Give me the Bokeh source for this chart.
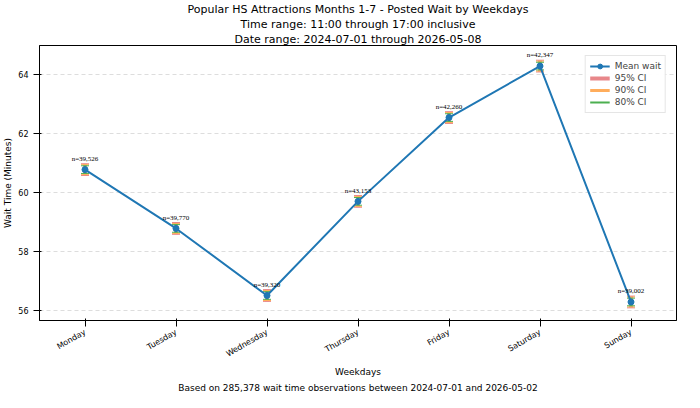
import math
from bokeh.plotting import figure
from bokeh.models import ColumnDataSource, Whisker, Title, Range1d, Legend, LegendItem
from bokeh.embed import file_html
from bokeh.resources import INLINE

days = ["Monday", "Tuesday", "Wednesday", "Thursday", "Friday", "Saturday", "Sunday"]
means = [60.78, 58.78, 56.50, 59.70, 62.55, 64.30, 56.28]
counts = ["39,526", "39,770", "39,320", "43,153", "42,260", "42,347", "39,002"]
ci95 = [0.20, 0.20, 0.20, 0.20, 0.20, 0.20, 0.20]
ci90 = [0.17, 0.17, 0.17, 0.17, 0.17, 0.17, 0.17]
ci80 = [0.13, 0.13, 0.13, 0.13, 0.13, 0.13, 0.13]

FONT = "DejaVu Sans"
p = figure(width=684, height=392, x_range=days, y_range=Range1d(55.65, 65.0),
           output_backend="svg", toolbar_location=None, min_border_left=36, min_border_right=8,
           min_border_top=0, min_border_bottom=0)
def mk(t, size="11px"):
    return dict(text=t, align="center", text_font=FONT, text_font_size=size, text_font_style="normal",
                text_color="black", standoff=0, offset=0)
p.title = Title(**mk("Popular HS Attractions Months 1-7 - Posted Wait by Weekdays"))
p.add_layout(Title(**mk("Date range: 2024-07-01 through 2026-05-08")), "above")
p.add_layout(Title(**mk("Time range: 11:00 through 17:00 inclusive")), "above")
p.add_layout(Title(**mk("Based on 285,378 wait time observations between 2024-07-01 and 2026-05-02", "9px")), "below")

src = ColumnDataSource(dict(x=days, y=means,
    lo95=[m - c for m, c in zip(means, ci95)], hi95=[m + c for m, c in zip(means, ci95)],
    lo90=[m - c for m, c in zip(means, ci90)], hi90=[m + c for m, c in zip(means, ci90)],
    lo80=[m - c for m, c in zip(means, ci80)], hi80=[m + c for m, c in zip(means, ci80)],
    lab=["n=" + c for c in counts]))

line = p.line("x", "y", source=src, line_color="#1f77b4", line_width=2)
pts = p.scatter("x", "y", source=src, size=6, color="#1f77b4")
items = [LegendItem(label="Mean wait", renderers=[line, pts])]
for key, col, w, lbl in [("95", "#e8878a", 4, "95% CI"), ("90", "#ffad5c", 3, "90% CI"), ("80", "#4caf50", 2, "80% CI")]:
    wk = Whisker(source=src, base="x", lower="lo" + key, upper="hi" + key, line_color=col, line_width=w, line_alpha=0.8)
    wk.upper_head.line_color = col; wk.lower_head.line_color = col
    wk.upper_head.size = 8; wk.lower_head.size = 8
    p.add_layout(wk)
    dummy = p.segment(x0=[days[0]], y0=[means[0]], x1=[days[0]], y1=[means[0]], line_color=col, line_width=w)
    items.append(LegendItem(label=lbl, renderers=[dummy]))
p.text("x", "hi95", text="lab", source=src, text_align="center", text_baseline="bottom",
       text_font=FONT, text_font_size="7px", text_color="black", y_offset=-1)

leg = Legend(items=items, location="top_right", label_text_font=FONT, label_text_font_size="9px",
             spacing=0, padding=4, label_height=12, glyph_height=12, border_line_color="#cccccc")
p.add_layout(leg)
p.xaxis.major_label_orientation = math.radians(30)
p.xaxis.axis_label = "Weekdays"; p.yaxis.axis_label = "Wait Time (Minutes)"
for ax in [p.xaxis, p.yaxis]:
    ax.axis_label_text_font = FONT; ax.axis_label_text_font_size = "9px"; ax.axis_label_text_font_style = "normal"
    ax.axis_label_text_color = "black"; ax.major_label_text_color = "black"
    ax.major_label_text_font = FONT; ax.major_label_text_font_size = "8px"
    ax.minor_tick_line_color = None
    ax.axis_label_standoff = 2
p.yaxis.ticker = [56, 58, 60, 62, 64]
p.xgrid.grid_line_color = None
p.ygrid.grid_line_dash = "4 3"; p.ygrid.grid_line_color = "#dddddd"
p.outline_line_color = "black"

open("out.html", "w").write(file_html(p, INLINE))
